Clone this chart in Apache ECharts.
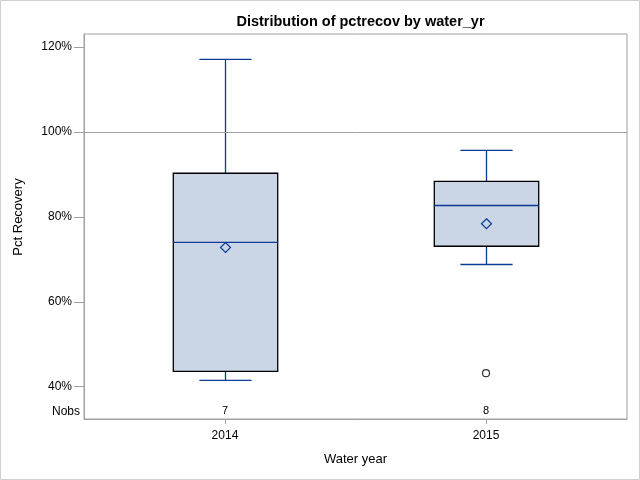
<!DOCTYPE html>
<html>
<head>
<meta charset="utf-8">
<script src="https://cdn.jsdelivr.net/npm/echarts@6/dist/echarts.min.js"></script>
<style>html,body{margin:0;padding:0;background:#fff}#c{width:640px;height:480px}</style>
</head>
<body>
<div id="c"></div>
<script>
// ---- data (percent) ----
var years = ['2014', '2015'];
var whiskerLow = [41.5, 68.8];
var q1 = [43.6, 73.1];
var median = [74.0, 82.7];
var q3 = [90.3, 88.4];
var whiskerHigh = [117.1, 95.7];
var mean = [72.8, 78.4];
var nobs = [7, 8];
var outlierYear = ['2015'];
var outlierValue = [43.2];
var yTicks = [40, 60, 80, 100, 120];
var refLine = 100;

var FONT = '"Liberation Sans", Arial, sans-serif';
var BLUE = '#0b3b95';
var GRAY = '#a0a0a0';

var boxData = years.map(function (y, i) {
  return [i + 1, whiskerLow[i], q1[i], median[i], q3[i], whiskerHigh[i], mean[i]];
});
var outData = outlierYear.map(function (y, i) {
  return [years.indexOf(y) + 1, outlierValue[i]];
});
var xPos = years.map(function (y, i) { return i + 1; });

function renderBox(params, api) {
  var x = api.value(0);
  var pLo = api.coord([x, api.value(1)]);
  var pQ1 = api.coord([x, api.value(2)]);
  var pMed = api.coord([x, api.value(3)]);
  var pQ3 = api.coord([x, api.value(4)]);
  var pHi = api.coord([x, api.value(5)]);
  var pMean = api.coord([x, api.value(6)]);
  var hw = api.size([0.4, 0])[0] / 2;
  var cw = api.size([0.2, 0])[0] / 2;
  var cx = Math.round(pMed[0]) + 0.5;
  var ln = { stroke: BLUE, lineWidth: 1.3 };
  var d = 5;
  return {
    type: 'group',
    children: [
      { type: 'line', shape: { x1: cx, y1: pQ3[1], x2: cx, y2: pHi[1] }, style: ln },
      { type: 'line', shape: { x1: cx, y1: pQ1[1], x2: cx, y2: pLo[1] }, style: ln },
      { type: 'line', shape: { x1: cx - cw, y1: pHi[1], x2: cx + cw, y2: pHi[1] }, style: ln },
      { type: 'line', shape: { x1: cx - cw, y1: pLo[1], x2: cx + cw, y2: pLo[1] }, style: ln },
      { type: 'rect', shape: { x: cx - hw, y: pQ3[1], width: 2 * hw, height: pQ1[1] - pQ3[1] },
        style: { fill: '#cad5e5', stroke: '#000', lineWidth: 1.3 } },
      { type: 'line', shape: { x1: cx - hw, y1: pMed[1], x2: cx + hw, y2: pMed[1] }, style: ln },
      { type: 'polygon', shape: { points: [[cx, pMean[1] - d], [cx + d, pMean[1]], [cx, pMean[1] + d], [cx - d, pMean[1]]] },
        style: { fill: 'none', stroke: BLUE, lineWidth: 1.2 } }
    ]
  };
}

var chart = echarts.init(document.getElementById('c'), null, { renderer: 'canvas' });
chart.setOption({
  animation: false,
  backgroundColor: '#fff',
  title: {
    text: 'Distribution of pctrecov by water_yr',
    left: 355.5, top: 9, textAlign: 'center',
    textStyle: { fontFamily: FONT, fontSize: 14.5, fontWeight: 'bold', color: '#000' }
  },
  grid: { left: 84, right: 13, top: 34, bottom: 61, show: true, borderColor: GRAY, borderWidth: 1, backgroundColor: 'transparent' },
  xAxis: [{
    type: 'value', min: 0.46, max: 2.54,
    splitLine: { show: false },
    axisLine: { lineStyle: { color: GRAY } },
    axisTick: { customValues: xPos, length: 5, lineStyle: { color: GRAY } },
    axisLabel: { customValues: xPos, margin: 11, color: '#000', fontFamily: FONT, fontSize: 12,
      formatter: function (v) { return years[Math.round(v) - 1]; } },
    name: 'Water year', nameLocation: 'middle', nameGap: 34,
    nameTextStyle: { fontFamily: FONT, fontSize: 13, color: '#000' }
  }, {
    type: 'value', min: 0.46, max: 2.54, position: 'bottom',
    splitLine: { show: false }, axisLine: { show: false }, axisTick: { show: false },
    axisLabel: { customValues: xPos, inside: true, margin: 3, color: '#000', fontFamily: FONT, fontSize: 11,
      formatter: function (v) { return String(nobs[Math.round(v) - 1]); } }
  }],
  yAxis: {
    type: 'value', min: 32.4, max: 123.1,
    splitLine: { show: false },
    axisLine: { show: true, lineStyle: { color: GRAY } },
    axisTick: { customValues: yTicks, length: 10, lineStyle: { color: GRAY } },
    axisLabel: { customValues: yTicks, margin: 12, color: '#000', fontFamily: FONT, fontSize: 12,
      formatter: function (v) { return v + '%'; } }
  },
  graphic: [
    { type: 'rect', shape: { x: 0.5, y: 0.5, width: 639, height: 479 }, style: { fill: 'none', stroke: '#cfcfcf', lineWidth: 1 }, silent: true },
    { type: 'text', x: 80, y: 411.5, style: { text: 'Nobs', align: 'right', verticalAlign: 'middle', fontFamily: FONT, fontSize: 12, fill: '#000' } },
    { type: 'text', x: 18.5, y: 217, rotation: Math.PI / 2, style: { text: 'Pct Recovery', align: 'center', verticalAlign: 'middle', fontFamily: FONT, fontSize: 13, fill: '#000' } }
  ],
  series: [{
    type: 'custom',
    renderItem: renderBox,
    data: boxData,
    encode: { x: 0, y: [1, 2, 3, 4, 5, 6] },
    markLine: {
      silent: true, symbol: 'none', label: { show: false },
      lineStyle: { color: GRAY, type: 'solid', width: 1 },
      data: [{ yAxis: refLine }]
    },
    z: 3
  }, {
    type: 'scatter',
    data: outData,
    symbol: 'circle', symbolSize: 7,
    itemStyle: { color: 'rgba(0,0,0,0)', borderColor: '#000', borderWidth: 1.2 },
    z: 4
  }]
});
</script>
</body>
</html>
